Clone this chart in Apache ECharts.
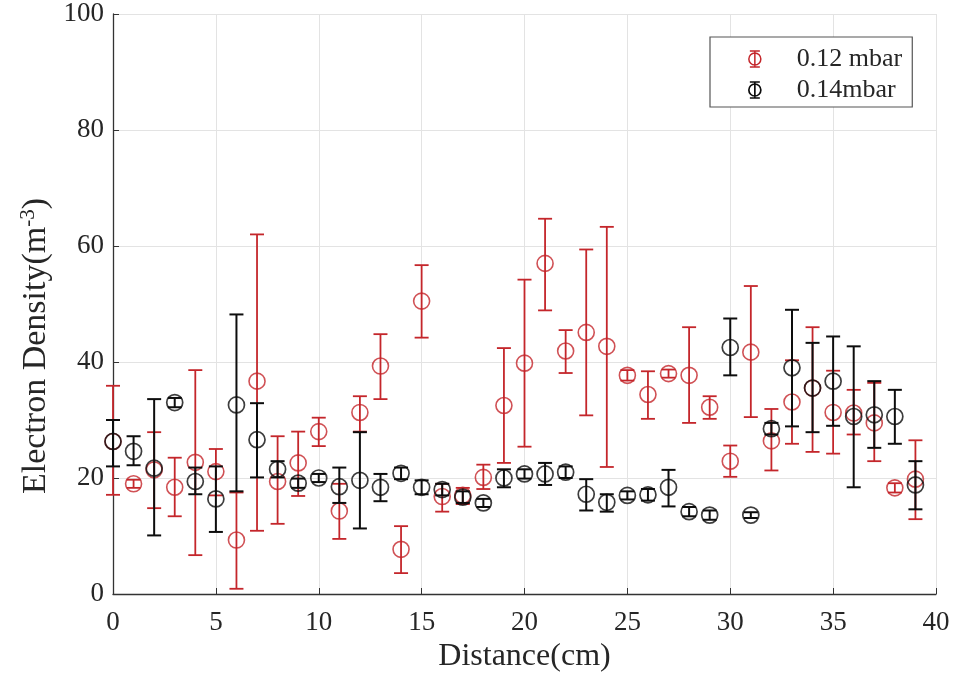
<!DOCTYPE html>
<html>
<head>
<meta charset="utf-8">
<script src="https://cdn.jsdelivr.net/npm/echarts@6/dist/echarts.min.js"></script>
<style>
html,body{margin:0;padding:0;background:#fff;}
#chart{width:953px;height:679px;}
</style>
</head>
<body>
<div id="chart"></div>
<script>
// Distance (cm)
const distance = [0,1,2,3,4,5,6,7,8,9,10,11,12,13,14,15,16,17,18,19,20,21,22,23,24,25,26,27,28,29,30,31,32,33,34,35,36,37,38,39];

// 0.12 mbar
const redMean = [26.3,19.0,21.4,18.4,22.7,21.1,9.3,36.7,19.4,22.6,28.0,14.3,31.3,39.3,7.7,50.5,16.8,17.0,20.1,32.5,39.8,57.0,41.9,45.1,42.7,37.7,34.4,38.0,37.7,32.2,22.9,41.7,26.4,33.1,35.5,31.3,31.2,29.5,18.3,19.8];
const redLow  = [17.1,18.3,14.8,13.4,6.7,17.0,0.9,10.9,12.1,16.9,25.5,9.5,28.0,33.6,3.6,44.2,14.2,15.5,18.1,22.6,25.4,48.9,38.1,30.8,21.9,36.8,30.2,37.3,29.5,30.2,20.2,30.5,21.3,25.9,24.5,24.2,27.5,22.9,17.5,12.9];
const redHigh = [35.9,19.7,27.9,23.5,38.6,25.0,17.5,62.0,27.2,28.0,30.4,19.0,34.1,44.8,11.7,56.7,19.0,18.3,22.3,42.4,54.2,64.7,45.5,59.4,63.3,38.6,38.4,38.7,46.0,34.1,25.6,53.1,31.9,40.3,46.0,38.5,35.2,36.4,19.1,26.5];

// 0.14 mbar
const blackMean = [26.3,24.6,21.7,33.0,19.4,16.4,32.6,26.6,21.5,19.1,20.0,18.5,19.6,18.4,20.8,18.4,18.0,16.7,15.7,20.0,20.7,20.7,21.0,17.2,15.8,17.0,17.1,18.4,14.2,13.6,42.5,13.6,28.5,39.0,35.5,36.7,30.6,30.9,30.6,18.8];
const blackLow  = [22.0,22.2,10.1,32.2,17.2,10.7,17.7,20.1,20.1,18.3,19.3,15.7,11.3,16.0,19.8,17.2,17.0,15.7,15.0,18.4,19.9,18.8,20.0,14.4,14.2,16.3,16.1,15.1,13.4,12.8,37.7,13.1,27.5,28.9,27.9,29.0,18.4,25.2,25.9,14.6];
const blackHigh = [30.0,27.2,33.6,33.8,21.8,22.0,48.2,32.9,22.9,19.9,20.7,21.8,27.9,20.7,21.8,19.6,19.0,17.7,16.4,21.5,21.5,22.6,22.0,19.8,17.2,17.7,18.1,21.4,15.0,14.4,47.5,14.1,29.5,49.0,43.3,44.4,42.7,36.7,35.2,22.9];

const seriesNames = ['0.12 mbar', '0.14mbar'];
const xTicks = {min:0, max:40, interval:5};
const yTicks = {min:0, max:100, interval:20};

const RED = '#c4262b';
const BLACK = '#0d0d0d';
const FONT = '"Liberation Serif", "Times New Roman", serif';

function rows(mean, low, high){
  return distance.map((d,i)=>[d, mean[i], low[i], high[i]]);
}

function errRender(color, w){
  return function(params, api){
    const x = api.value(0);
    const lo = api.coord([x, api.value(2)]);
    const hi = api.coord([x, api.value(3)]);
    const hw = 7;
    const st = {stroke: color, lineWidth: w};
    return {
      type:'group',
      children:[
        {type:'line', shape:{x1:lo[0],y1:lo[1],x2:hi[0],y2:hi[1]}, style:st},
        {type:'line', shape:{x1:lo[0]-hw,y1:lo[1],x2:lo[0]+hw,y2:lo[1]}, style:st},
        {type:'line', shape:{x1:hi[0]-hw,y1:hi[1],x2:hi[0]+hw,y2:hi[1]}, style:st}
      ]
    };
  };
}

const legendIcon = 'path://M3 0 L13 0 M8 0 L8 16 M3 16 L13 16 M14 8 A6 6 0 1 1 2 8 A6 6 0 1 1 14 8';

const redData = rows(redMean, redLow, redHigh);
const blackData = rows(blackMean, blackLow, blackHigh);

const chart = echarts.init(document.getElementById('chart'));
chart.setOption({
  animation:false,
  backgroundColor:'#fff',
  grid:{left:113, top:14, right:17, bottom:85, containLabel:false},
  xAxis:{
    type:'value', min:xTicks.min, max:xTicks.max, interval:xTicks.interval,
    name:'Distance(cm)', nameLocation:'middle', nameGap:47,
    nameTextStyle:{fontFamily:FONT, fontSize:32, color:'#262626'},
    axisLine:{show:true, onZero:false, lineStyle:{color:'#333', width:1.3}},
    axisTick:{show:true, inside:true, length:6, lineStyle:{color:'#333'}},
    axisLabel:{fontFamily:FONT, fontSize:27, color:'#262626', margin:15},
    splitLine:{show:true, lineStyle:{color:'#e3e3e3', width:1}}
  },
  yAxis:{
    type:'value', min:yTicks.min, max:yTicks.max, interval:yTicks.interval,
    name:'Electron Density(m{sup|-3})', nameLocation:'middle', nameGap:58, nameRotate:90,
    nameTextStyle:{fontFamily:FONT, fontSize:34, color:'#262626', padding:[0,84,0,0],
      rich:{sup:{fontFamily:FONT, fontSize:21, color:'#262626', verticalAlign:'top', padding:[0,0,15,0]}}},
    axisLine:{show:true, onZero:false, lineStyle:{color:'#333', width:1.3}},
    axisTick:{show:true, inside:true, length:6, lineStyle:{color:'#333'}},
    axisLabel:{fontFamily:FONT, fontSize:27, color:'#262626', margin:9},
    splitLine:{show:true, lineStyle:{color:'#e3e3e3', width:1}}
  },
  legend:{
    orient:'vertical', left:710, top:37,
    padding:[9, 10, 4, 38],
    itemWidth:74, itemHeight:16, itemGap:5,
    borderColor:'#555', borderWidth:1.2, backgroundColor:'#fff',
    textStyle:{fontFamily:FONT, fontSize:26, color:'#262626', lineHeight:26},
    data:[
      {name:seriesNames[0], icon:legendIcon, itemStyle:{color:'transparent', borderColor:RED, borderWidth:1.5}},
      {name:seriesNames[1], icon:legendIcon, itemStyle:{color:'transparent', borderColor:BLACK, borderWidth:1.7}}
    ]
  },
  series:[
    {type:'custom', name:seriesNames[0], data:redData, renderItem:errRender(RED, 1.8),
      encode:{x:0, y:[1,2,3]}, z:2, itemStyle:{color:'transparent', borderColor:RED}},
    {type:'scatter', name:seriesNames[0], data:redData, symbol:'circle', symbolSize:16,
      encode:{x:0, y:1}, z:3,
      itemStyle:{color:'transparent', borderColor:RED, borderWidth:1.6}},
    {type:'custom', name:seriesNames[1], data:blackData, renderItem:errRender(BLACK, 2),
      encode:{x:0, y:[1,2,3]}, z:4, itemStyle:{color:'transparent', borderColor:BLACK}},
    {type:'scatter', name:seriesNames[1], data:blackData, symbol:'circle', symbolSize:16,
      encode:{x:0, y:1}, z:5,
      itemStyle:{color:'transparent', borderColor:BLACK, borderWidth:1.7}}
  ]
});
</script>
</body>
</html>
